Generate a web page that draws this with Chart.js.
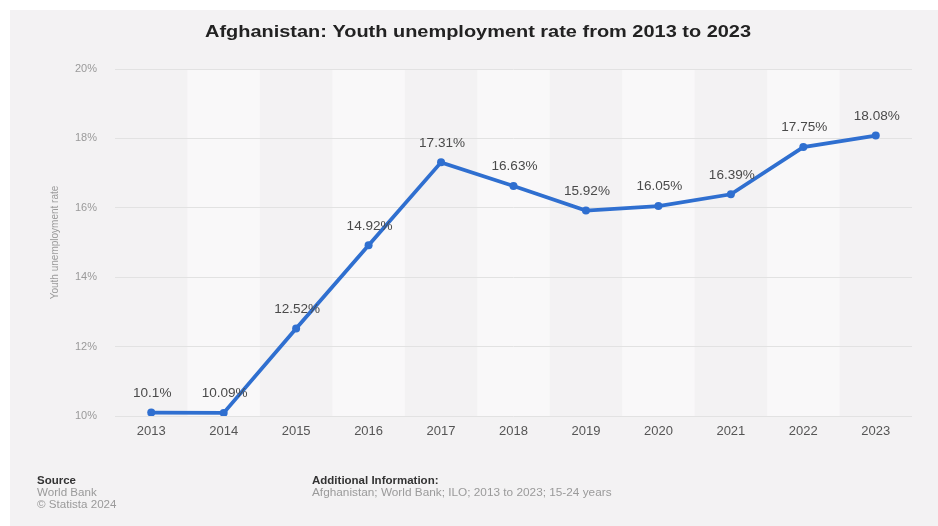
<!DOCTYPE html>
<html>
<head>
<meta charset="utf-8">
<script src="https://cdn.jsdelivr.net/npm/chart.js@4"></script>
<style>
html,body{margin:0;padding:0;background:#fff;}
canvas{display:block;}
</style>
</head>
<body>
<canvas id="c" width="938" height="526"></canvas>
<script>
const years = ['2013','2014','2015','2016','2017','2018','2019','2020','2021','2022','2023'];
const rates = [10.1, 10.09, 12.52, 14.92, 17.31, 16.63, 15.92, 16.05, 16.39, 17.75, 18.08];
const valueLabels = ['10.1%','10.09%','12.52%','14.92%','17.31%','16.63%','15.92%','16.05%','16.39%','17.75%','18.08%'];
const titleText = 'Afghanistan: Youth unemployment rate from 2013 to 2023';
const yAxisTitle = 'Youth unemployment rate';
const footerLeft = ['Source', 'World Bank', '\u00A9 Statista 2024'];
const footerRight = ['Additional Information:', 'Afghanistan; World Bank; ILO; 2013 to 2023; 15-24 years'];

const FONT = "'Liberation Sans', Arial, Helvetica, sans-serif";
const BLUE = '#2f6fd0';

// draw text stretched horizontally (the reference's text is wide)
function wideText(ctx, text, x, y, sx, align) {
  ctx.save();
  const w = ctx.measureText(text).width * sx;
  let left = x;
  if (align === 'center') left = x - w / 2;
  else if (align === 'right') left = x - w;
  ctx.translate(left, y);
  ctx.scale(sx, 1);
  ctx.textAlign = 'left';
  ctx.fillText(text, 0, 0);
  ctx.restore();
}

const bgPlugin = {
  id: 'bg',
  beforeDraw(chart) {
    const ctx = chart.ctx;
    ctx.save();
    ctx.fillStyle = '#ffffff';
    ctx.fillRect(0, 0, chart.width, chart.height);
    ctx.fillStyle = '#f3f2f3';
    ctx.fillRect(10, 10, chart.width - 10, chart.height - 10);
    const xs = chart.scales.x, area = chart.chartArea;
    const step = xs.getPixelForValue(1) - xs.getPixelForValue(0);
    ctx.fillStyle = '#f9f8f9';
    for (let i = 1; i < years.length; i += 2) {
      const cx = xs.getPixelForValue(i);
      ctx.fillRect(cx - step / 2, area.top, step, area.bottom - area.top);
    }
    ctx.restore();
  },
  afterDraw(chart) {
    const ctx = chart.ctx;
    ctx.save();
    ctx.textBaseline = 'middle';
    // title
    ctx.font = 'bold 16px ' + FONT;
    ctx.fillStyle = '#222222';
    const tw = ctx.measureText(titleText).width;
    wideText(ctx, titleText, 478, 33, 546 / tw, 'center');
    // footer
    ctx.font = 'bold 10px ' + FONT;
    ctx.fillStyle = '#333333';
    wideText(ctx, footerLeft[0], 37, 481, 1.15, 'left');
    wideText(ctx, footerRight[0], 312, 481, 1.15, 'left');
    ctx.font = '10px ' + FONT;
    ctx.fillStyle = '#9a9a9a';
    wideText(ctx, footerLeft[1], 37, 493, 1.16, 'left');
    wideText(ctx, footerLeft[2], 37, 505, 1.16, 'left');
    wideText(ctx, footerRight[1], 312, 493, 1.18, 'left');
    ctx.restore();
  }
};

const labelPlugin = {
  id: 'vlabels',
  afterDatasetsDraw(chart) {
    const ctx = chart.ctx;
    const meta = chart.getDatasetMeta(0);
    ctx.save();
    ctx.font = '12px ' + FONT;
    ctx.fillStyle = '#4a4a4a';
    ctx.textBaseline = 'middle';
    meta.data.forEach((pt, i) => {
      wideText(ctx, valueLabels[i], pt.x + 1, pt.y - 19, 1.13, 'center');
    });
    ctx.restore();
  }
};

new Chart(document.getElementById('c'), {
  type: 'line',
  data: {
    labels: years,
    datasets: [{
      data: rates,
      borderColor: BLUE,
      backgroundColor: BLUE,
      borderWidth: 3.8,
      pointRadius: 4,
      pointBackgroundColor: BLUE,
      pointBorderColor: BLUE,
      pointBorderWidth: 0,
      tension: 0,
      fill: false
    }]
  },
  options: {
    responsive: false,
    animation: false,
    devicePixelRatio: 1,
    layout: { padding: { left: 0, right: 26, top: 69, bottom: 0 } },
    plugins: {
      legend: { display: false },
      tooltip: { enabled: false },
      title: { display: false }
    },
    scales: {
      x: {
        offset: true,
        grid: { display: false, drawTicks: false },
        border: { display: false },
        ticks: { color: '#555555', font: { family: FONT, size: 13 }, padding: 8, maxRotation: 0 },
        afterFit(s) { s.height = 110; }
      },
      y: {
        min: 10, max: 20,
        grid: { color: '#e2e2e2', lineWidth: 1, drawTicks: false },
        border: { display: false },
        ticks: {
          stepSize: 2,
          color: '#9a9a9a',
          font: { family: FONT, size: 11 },
          padding: 18,
          callback: v => v + '%'
        },
        title: {
          display: true,
          text: yAxisTitle,
          color: '#9a9a9a',
          font: { family: FONT, size: 10, lineHeight: 1.2 },
          padding: { top: 49, bottom: 0 }
        },
        afterFit(s) { s.width = 115; }
      }
    }
  },
  plugins: [bgPlugin, labelPlugin]
});
</script>
</body>
</html>
